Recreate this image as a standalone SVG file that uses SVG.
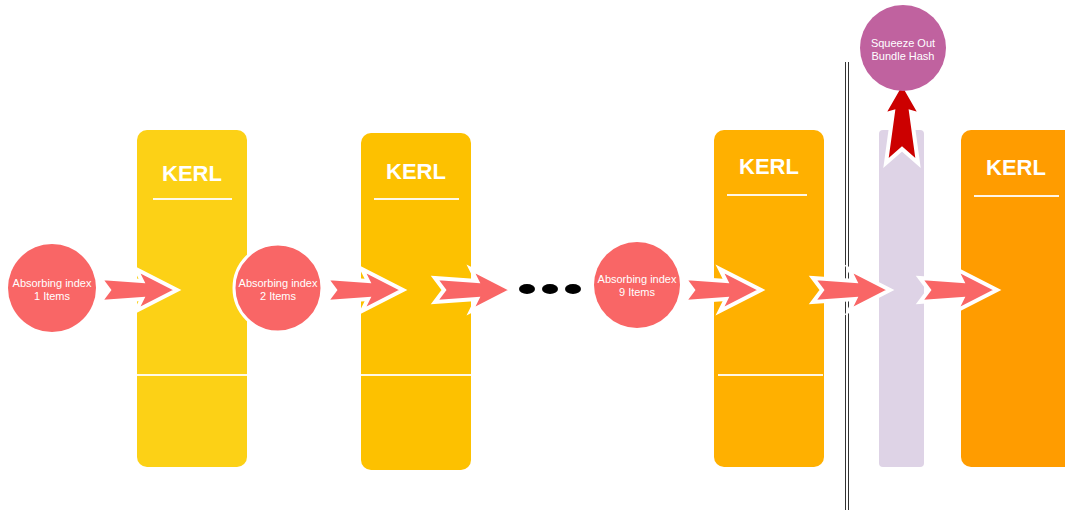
<svg xmlns="http://www.w3.org/2000/svg" xmlns:xlink="http://www.w3.org/1999/xlink" width="1065" height="510" viewBox="0 0 1065 510">
<style>
.kt{font-family:"Liberation Sans",Arial,sans-serif;font-weight:bold;font-size:22px;fill:#fff;text-anchor:middle}
.ct{font-family:"Liberation Sans",Arial,sans-serif;font-size:11px;fill:#fff;text-anchor:middle}
.wl{stroke:#fff;stroke-width:2;opacity:0.9}
.arr{fill:#F96666;stroke:#fff;stroke-width:4;stroke-linejoin:miter}
.circ{fill:#F96666}
</style>
<defs>
<path id="ar" d="M0,-12 L42,-9 L36,-21 L77,0 L36,21 L42,9 L0,12 L9,0 Z"/>
</defs>
<rect width="1065" height="510" fill="#fff"/>
<g id="kerl1">
<rect x="137" y="130" width="110" height="337" rx="10" fill="#FCD116"/>
<text class="kt" x="192" y="181">KERL</text>
<line class="wl" x1="153" y1="199" x2="232" y2="199"/>
<line class="wl" x1="137" y1="375" x2="247" y2="375"/>
</g>
<g id="kerl2">
<rect x="361" y="133" width="110" height="337" rx="10" fill="#FDC100"/>
<text class="kt" x="416" y="179">KERL</text>
<line class="wl" x1="374" y1="199" x2="459" y2="199"/>
<line class="wl" x1="361" y1="375" x2="471" y2="375"/>
</g>
<g id="kerl3">
<rect x="714" y="130" width="110" height="337" rx="10" fill="#FFB000"/>
<text class="kt" x="769" y="174">KERL</text>
<line class="wl" x1="727" y1="195" x2="807" y2="195"/>
<line class="wl" x1="718" y1="375" x2="823" y2="375"/>
</g>
<g id="bar">
<rect x="879" y="130" width="45" height="337" rx="4" fill="#DED3E6"/>
</g>
<g id="kerl4">
<rect x="961" y="130" width="114" height="337" rx="10" fill="#FF9C00"/>
<text class="kt" x="1016" y="175">KERL</text>
<line class="wl" x1="974" y1="196" x2="1059" y2="196"/>
</g>
<g id="divider" stroke="#333" stroke-width="1">
<line x1="845.5" y1="62" x2="845.5" y2="510"/>
<line x1="848.5" y1="62" x2="848.5" y2="510"/>
</g>
<g id="dots" fill="#000">
<ellipse cx="527" cy="289" rx="8" ry="5"/>
<ellipse cx="550" cy="289" rx="8" ry="5"/>
<ellipse cx="573" cy="289" rx="8" ry="5"/>
</g>
<g id="connectors">
<use xlink:href="#ar" class="arr" transform="translate(100,290)"/>
<use xlink:href="#ar" class="arr" transform="translate(326,290)"/>
<use xlink:href="#ar" class="arr" transform="translate(435,290)"/>
<use xlink:href="#ar" class="arr" transform="translate(684,290)"/>
<use xlink:href="#ar" class="arr" transform="translate(813,290)"/>
<use xlink:href="#ar" class="arr" transform="translate(920,290)"/>
<path d="M902,82 L921,115 L911,112 L918,163 L902,149 L886,163 L893,112 L883,115 Z" fill="#CC0000" stroke="#fff" stroke-width="4"/>
</g>
<g id="item1">
<circle class="circ" cx="52" cy="288" r="44"/>
<text class="ct" x="52" y="287">Absorbing index</text>
<text class="ct" x="52" y="300">1 Items</text>
</g>
<g id="item2">
<circle class="circ" cx="278" cy="288" r="44" stroke="#fff" stroke-width="3"/>
<text class="ct" x="278" y="287">Absorbing index</text>
<text class="ct" x="278" y="300">2 Items</text>
</g>
<g id="item9">
<circle class="circ" cx="637" cy="285" r="43"/>
<text class="ct" x="637" y="283">Absorbing index</text>
<text class="ct" x="637" y="296">9 Items</text>
</g>
<g id="squeeze">
<circle cx="903" cy="48" r="43" fill="#C0629F"/>
<text class="ct" x="903" y="47" font-size="10.5">Squeeze Out</text>
<text class="ct" x="903" y="60" font-size="10.5">Bundle Hash</text>
</g>
</svg>
